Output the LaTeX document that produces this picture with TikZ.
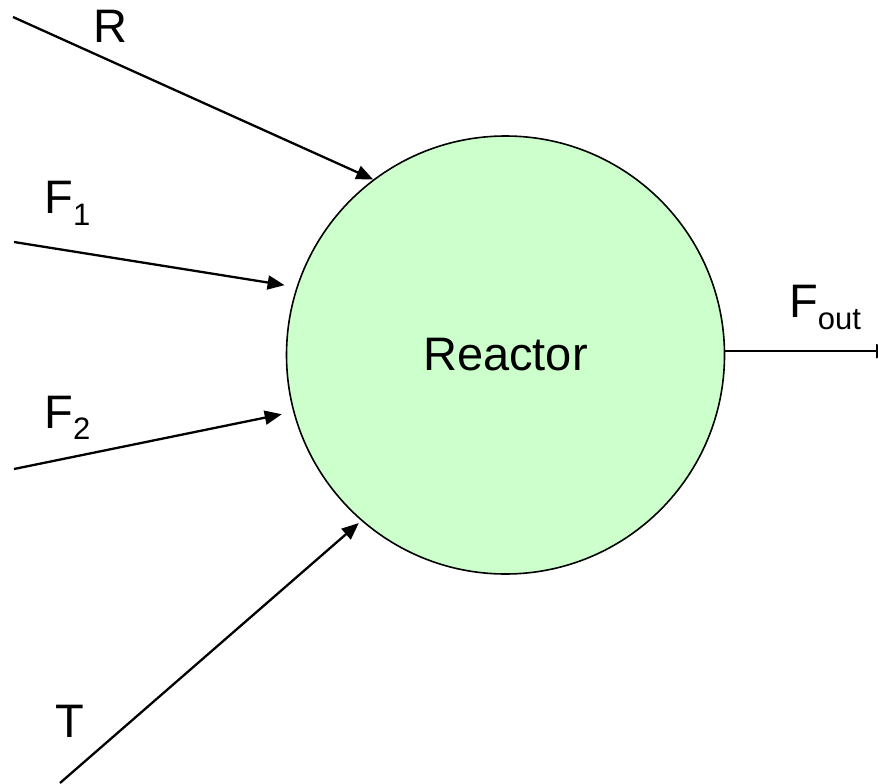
\documentclass[tikz,border=0pt]{standalone}
\usepackage{fontspec}
\setmainfont{Liberation Sans}
\usetikzlibrary{arrows.meta}
\newcommand{\subf}{\fontsize{31}{31}\selectfont}
\definecolor{reactorgreen}{HTML}{CCFFCC}
\begin{document}
\begin{tikzpicture}[x=1pt,y=-1pt,
  lab/.style={inner sep=0pt, anchor=base west, font=\fontsize{47}{47}\selectfont},
  flow/.style={line width=2.3pt, -{Triangle[length=17pt,width=14pt]}},
  reactorbox/.style={circle, draw=black, line width=1.6pt, fill=reactorgreen,
    minimum size=438pt, inner sep=0pt, font=\fontsize{47}{47}\selectfont}
]
\useasboundingbox (0,0) rectangle (878,784);
\node[reactorbox] (reactor) at (505.5,355) {Reactor};

\coordinate (rs) at (13,17);
\coordinate (f1s) at (14,242);
\coordinate (f2s) at (14,469);
\coordinate (ts) at (60,783);
\coordinate (outend) at (893,349);

\draw[flow] (rs) -- (reactor.127.45);
\draw[flow, shorten >=12pt] (f1s) -- (reactor.162.45);
\draw[flow, shorten >=11.7pt] (f2s) -- (reactor.195.55);
\draw[flow, shorten >=3.3pt] (ts) -- (reactor.229.2);
\draw[flow] (reactor.1.6) -- (reactor.1.6 -| outend);

\node[lab] (lr) at (93.5,43) {R};
\node[lab] (lf1) at (44.2,213) {F\raisebox{-12pt}{\subf 1}};
\node[lab] (lf2) at (44.2,428) {F\raisebox{-11pt}{\subf 2}};
\node[lab] (lt) at (55,737) {T};
\node[lab] (lout) at (789,317) {F\raisebox{-12pt}{\subf out}};
\end{tikzpicture}
\end{document}
